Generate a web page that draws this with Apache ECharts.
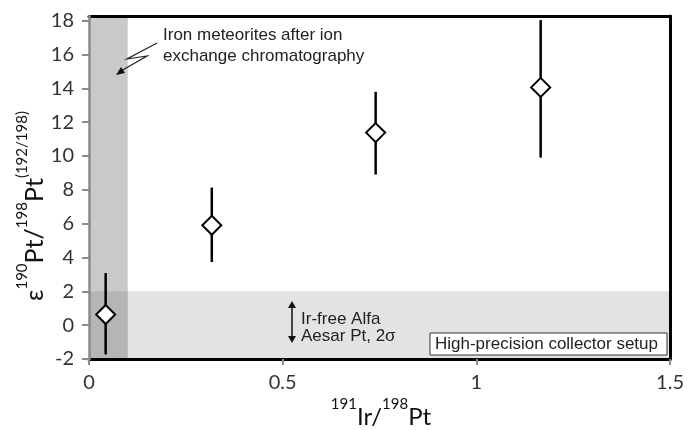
<!DOCTYPE html>
<html>
<head>
<meta charset="utf-8">
<script src="https://cdn.jsdelivr.net/npm/echarts@6/dist/echarts.min.js"></script>
<style>html,body{margin:0;padding:0;background:#fff}#c{width:687px;height:430px}</style>
</head>
<body>
<div id="c"></div>
<script>
// ---- data ----
const xVals = [0.043, 0.317, 0.74, 1.166];
const yVals = [0.63, 5.9, 11.38, 14.05];
const yLow  = [-1.73, 3.73, 8.9, 9.9];
const yHigh = [3.08, 8.13, 13.79, 18.03];
const xTicks = [0, 0.5, 1, 1.5];
const yTicks = [-2, 0, 2, 4, 6, 8, 10, 12, 14, 16, 18];
const vBand = [0, 0.1];   // Iron meteorites band (x range)
const hBand = [-2, 2];    // Alfa Aesar 2σ band (y range)
const xRange = [0, 1.5];
const yRange = [-2, 18.27];

const chart = echarts.init(document.getElementById('c'));
const labelFont = 'Lato';
const annFont = '"Liberation Sans", Arial, sans-serif';

const option = {
  animation: false,
  grid: { left: 89, right: 14, top: 16, bottom: 71 },
  xAxis: [{
    type: 'value', min: xRange[0], max: xRange[1], interval: 0.5, z: 10,
    axisLine: { onZero: false, lineStyle: { color: '#000', width: 3 } },
    axisTick: { show: true, length: 6, customValues: xTicks, lineStyle: { color: '#8a8a8a', width: 2 } },
    axisLabel: { customValues: xTicks, color: '#333', fontFamily: labelFont, fontSize: 20, margin: 14 },
    splitLine: { show: false }
  }, {
    type: 'value', position: 'top', min: xRange[0], max: xRange[1], z: 10,
    axisLine: { onZero: false, lineStyle: { color: '#000', width: 3 } },
    axisTick: { show: false }, axisLabel: { show: false }, splitLine: { show: false }
  }],
  yAxis: [{
    type: 'value', min: yRange[0], max: yRange[1], interval: 2, z: 11,
    axisLine: { onZero: false, lineStyle: { color: '#8a8a8a', width: 2.5 } },
    axisTick: { show: true, length: 7, customValues: yTicks, lineStyle: { color: '#8a8a8a', width: 2 } },
    axisLabel: { customValues: yTicks, color: '#333', fontFamily: labelFont, fontSize: 20, margin: 15 },
    splitLine: { show: false }
  }, {
    type: 'value', position: 'right', min: yRange[0], max: yRange[1], z: 10,
    axisLine: { onZero: false, lineStyle: { color: '#000', width: 3 } },
    axisTick: { show: false }, axisLabel: { show: false }, splitLine: { show: false }
  }],
  series: [
    {
      type: 'scatter', data: [], z: 1, silent: true,
      markArea: {
        silent: true,
        data: [
          [{ xAxis: vBand[0], yAxis: yRange[0], itemStyle: { color: '#c9c9c9' } }, { xAxis: vBand[1], yAxis: yRange[1] }],
          [{ xAxis: xRange[0], yAxis: hBand[0], itemStyle: { color: '#e3e3e3' } }, { xAxis: xRange[1], yAxis: hBand[1] }],
          [{ xAxis: vBand[0], yAxis: hBand[0], itemStyle: { color: '#b5b5b5' } }, { xAxis: vBand[1], yAxis: hBand[1] }]
        ]
      }
    },
    {
      type: 'custom', z: 3, silent: true,
      data: xVals.map((x, i) => [x, yLow[i], yHigh[i]]),
      renderItem: function (params, api) {
        const x = api.value(0);
        const a = api.coord([x, api.value(1)]);
        const b = api.coord([x, api.value(2)]);
        return { type: 'line', shape: { x1: a[0], y1: a[1], x2: b[0], y2: b[1] },
                 style: { stroke: '#000', lineWidth: 2.5 } };
      }
    },
    {
      type: 'scatter', z: 5, symbol: 'diamond', symbolSize: [19, 19],
      itemStyle: { color: '#fff', borderColor: '#000', borderWidth: 2, opacity: 1 },
      data: xVals.map((x, i) => [x, yVals[i]])
    }
  ],
  graphic: [
    { type: 'text', x: 31, y: 206, rotation: Math.PI / 2, z: 20,
      style: {
        text: '{b|ε}{s|190}{b|Pt/}{s|198}{b|Pt}{s|(192/198)}',
        align: 'center', verticalAlign: 'middle', fill: '#111',
        rich: {
          b: { fontFamily: labelFont, fontSize: 25, lineHeight: 32, verticalAlign: 'bottom', fill: '#111' },
          s: { fontFamily: labelFont, fontSize: 15, lineHeight: 18, verticalAlign: 'top', fill: '#111' }
        }
      }
    },
    { type: 'text', x: 381, y: 413, z: 20,
      style: {
        text: '{s|191}{b|Ir/}{s|198}{b|Pt}',
        align: 'center', verticalAlign: 'middle', fill: '#111',
        rich: {
          b: { fontFamily: labelFont, fontSize: 24, lineHeight: 32, verticalAlign: 'bottom', fill: '#111' },
          s: { fontFamily: labelFont, fontSize: 15, lineHeight: 18, verticalAlign: 'top', fill: '#111' }
        }
      }
    },
    { type: 'text', x: 163, y: 45.5, z: 20,
      style: { text: 'Iron meteorites after ion\nexchange chromatography', font: '17px ' + annFont,
               fill: '#222', lineHeight: 21, verticalAlign: 'middle' } },
    { type: 'polyline', z: 20, shape: { points: [[157, 43], [127, 59], [147, 56], [121, 71]] },
      style: { stroke: '#222', lineWidth: 1.2, fill: null } },
    { type: 'polygon', z: 20, shape: { points: [[116, 75], [121, 67], [125, 73]] }, style: { fill: '#111' } },
    { type: 'line', z: 20, shape: { x1: 292, y1: 306, x2: 292, y2: 338 }, style: { stroke: '#111', lineWidth: 1.5 } },
    { type: 'polygon', z: 20, shape: { points: [[288, 308], [292, 301], [296, 308]] }, style: { fill: '#111' } },
    { type: 'polygon', z: 20, shape: { points: [[288, 336], [292, 343], [296, 336]] }, style: { fill: '#111' } },
    { type: 'text', x: 301, y: 328, z: 20,
      style: { text: 'Ir-free Alfa\nAesar Pt, 2σ', font: '17px ' + annFont, fill: '#222',
               lineHeight: 17, verticalAlign: 'middle' } },
    { type: 'rect', z: 20, shape: { x: 430, y: 333, width: 237, height: 22 },
      style: { fill: '#fff', stroke: '#333', lineWidth: 1 } },
    { type: 'text', x: 435, y: 344.5, z: 21,
      style: { text: 'High-precision collector setup', font: '17px ' + annFont, fill: '#222', verticalAlign: 'middle' } }
  ]
};
chart.setOption(option);
</script>
</body>
</html>
